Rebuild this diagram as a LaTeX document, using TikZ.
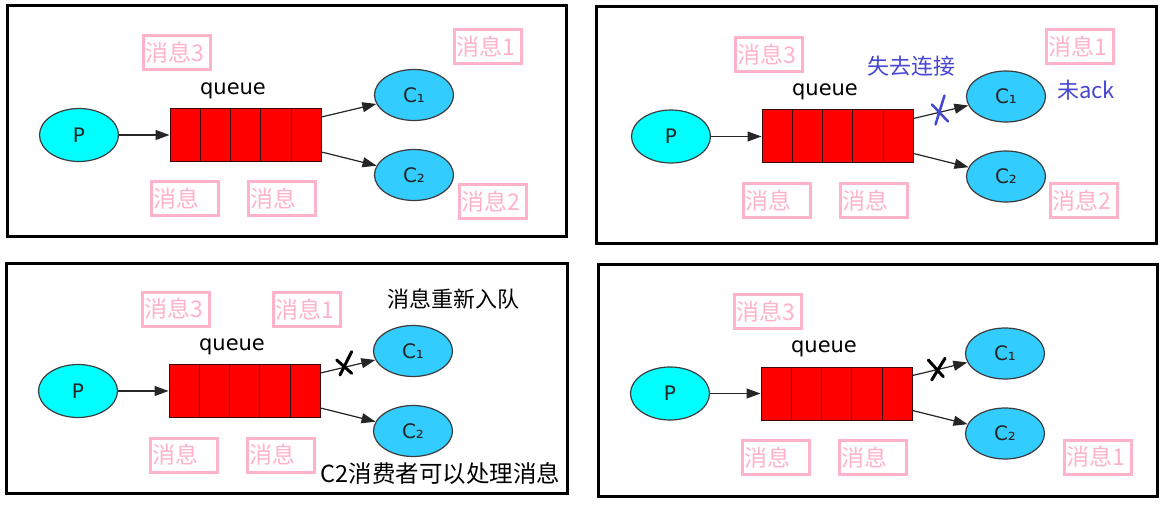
\documentclass[tikz,border=0pt]{standalone}
\usepackage{fontspec}
\newfontfamily\cjk{Noto Sans CJK SC}
\newfontfamily\lab{DejaVu Sans}
\usetikzlibrary{arrows.meta,shapes.geometric}
\definecolor{pinkc}{RGB}{255,179,200}
\definecolor{pcyan}{RGB}{0,255,255}
\definecolor{cblue}{RGB}{51,204,255}
\definecolor{qred}{RGB}{255,0,0}
\definecolor{qedge}{RGB}{60,10,10}
\definecolor{lnk}{RGB}{70,70,210}
\definecolor{edgeg}{RGB}{60,60,60}
\tikzset{
  frame/.style={draw=black,line width=3pt},
  msg/.style={draw=pinkc,line width=3pt,text=pinkc,font=\cjk\fontsize{23pt}{23pt}\selectfont,
    minimum height=34pt,text width=63pt,inner xsep=2pt,inner ysep=0pt,align=left},
  prod/.style={ellipse,draw=edgeg,line width=1.2pt,fill=pcyan,minimum width=79pt,minimum height=53pt,
    inner sep=0pt,text=black!85,font=\lab\fontsize{20pt}{20pt}\selectfont},
  cons/.style={prod,fill=cblue,minimum height=51pt},
  qbox/.style={draw=qedge,line width=1pt,fill=qred,minimum width=151.5pt,minimum height=53pt,inner sep=0pt},
  qline/.style={draw=qedge,line width=1pt},
  flow/.style={draw=black!85,line width=1.2pt,-{Triangle[length=14pt,width=10pt]}},
  qlabel/.style={font=\lab\fontsize{21pt}{21pt}\selectfont,inner sep=0pt},
  note/.style={font=\cjk\fontsize{22pt}{22pt}\selectfont,inner sep=0pt},
  cross/.style={line width=3pt,line cap=round},
}
\newcommand\mqpanel[3]{%
  \begin{scope}[shift={(#2,#3)}]
    \node[prod] (#1P) at (79,135) {P};
    \node[qbox] (#1q) at (245.75,135) {};
    \foreach \xx in {200.3,230.6,260.9,291.2} \draw[qline] (\xx,108.5) -- (\xx,161.5);
    \node[cons] (#1c1) at (414,95) {C₁};
    \node[cons] (#1c2) at (414,175) {C₂};
    \node[qlabel] (#1ql) at (233,90.5) {queue};
    \coordinate (#1o1) at (321.5,117);
    \coordinate (#1o2) at (321.5,152);
    \draw[flow] (#1P) -- (#1q);
    \draw[flow] (#1o1) -- (#1c1);
    \draw[flow] (#1o2) -- (#1c2);
    \node[msg] (#1m3) at (177,53) {消息3};
    \node[msg] (#1ma) at (184.5,199) {消息};
    \node[msg] (#1mb) at (281.7,199) {消息};
  \end{scope}}
\begin{document}
\begin{tikzpicture}[x=1pt,y=-1pt]
  \useasboundingbox (0,0) rectangle (1171,508);
  \fill[white] (0,0) rectangle (1171,508);
  % frames
  \draw[frame] (7.5,5.5) rectangle (566.5,236.5);
  \draw[frame] (596.5,6.5) rectangle (1156,243);
  \draw[frame] (6.5,263.5) rectangle (567,493);
  \draw[frame] (598.5,264.5) rectangle (1157.5,496.5);
  % panels
  \mqpanel{a}{0}{0}
  \mqpanel{b}{592}{1.5}
  \mqpanel{c}{-1}{256}
  \mqpanel{d}{591}{258.5}
  % panel a extras
  \node[msg] (a1) at (488,46.3) {消息1};
  \node[msg] (a2) at (493,202) {消息2};
  % panel b extras
  \node[msg] (b1) at (1079.5,47) {消息1};
  \node[msg] (b2) at (1084.3,201) {消息2};
  \node[note,text=lnk] (blost) at (911.4,66) {失去连接};
  \node[note,text=lnk] (bnoack) at (1086,90) {未ack};
  \draw[cross,draw=lnk,line width=2.5pt] (944.5,95.5) -- (935.5,124.5) (932,104.5) -- (948,121.5);
  % panel c extras
  \node[msg] (cm1) at (307,309.4) {消息1};
  \node[note] (crq) at (453.3,299) {消息重新入队};
  \node[note,font=\cjk\fontsize{23.5pt}{23.5pt}\selectfont] (cc2) at (440.4,474) {C2消费者可以处理消息};
  \draw[cross] (351.7,351.7) -- (340,375) (336.7,360) -- (351.7,373.3);
  % panel d extras
  \node[msg] (dm1) at (1098,457) {消息1};
  \draw[cross] (945,358.3) -- (931.7,380) (928.3,360) -- (943.3,376.7);
\end{tikzpicture}
\end{document}
